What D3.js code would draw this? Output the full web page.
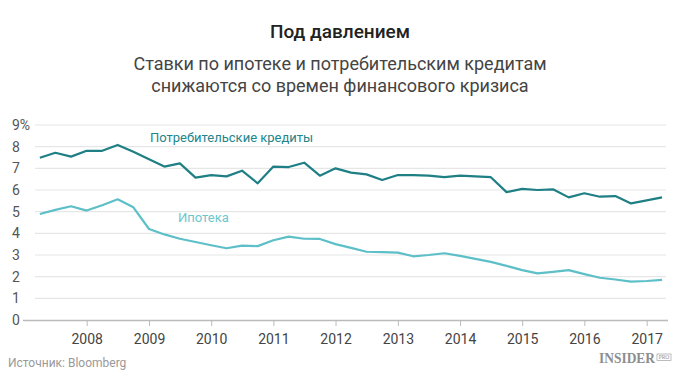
<!DOCTYPE html>
<html>
<head>
<meta charset="utf-8">
<script src="https://cdnjs.cloudflare.com/ajax/libs/d3/7.8.5/d3.min.js"></script>
<style>
  body { margin: 0; background: #fff; }
  text { font-family: Roboto, "Noto Sans", sans-serif; }
</style>
</head>
<body>
<div id="container"></div>
<script>
let w = 680;
let h = 376;

// quarterly points
let quarters = ["2007-04","2007-07","2007-10","2008-01","2008-04","2008-07","2008-10",
  "2009-01","2009-04","2009-07","2009-10","2010-01","2010-04","2010-07","2010-10",
  "2011-01","2011-04","2011-07","2011-10","2012-01","2012-04","2012-07","2012-10",
  "2013-01","2013-04","2013-07","2013-10","2014-01","2014-04","2014-07","2014-10",
  "2015-01","2015-04","2015-07","2015-10","2016-01","2016-04","2016-07","2016-10",
  "2017-01","2017-04"];

let consumer = [7.49,7.72,7.54,7.81,7.81,8.08,7.76,7.42,7.08,7.23,6.57,6.69,6.63,6.89,6.31,
  7.08,7.06,7.26,6.66,7.0,6.8,6.72,6.46,6.69,6.69,6.66,6.59,6.66,6.63,6.59,5.9,
  6.05,6.0,6.03,5.66,5.85,5.69,5.72,5.38,5.52,5.66];

let mortgage = [4.89,5.08,5.25,5.05,5.3,5.57,5.2,4.2,3.95,3.75,3.6,3.45,3.31,3.43,3.41,
  3.68,3.85,3.75,3.74,3.5,3.33,3.15,3.13,3.11,2.94,3.0,3.08,2.96,2.82,2.68,2.5,
  2.3,2.15,2.22,2.3,2.12,1.95,1.87,1.77,1.8,1.85];

let yearTicks = [2008,2009,2010,2011,2012,2013,2014,2015,2016,2017];
let yTicks = [0,1,2,3,4,5,6,7,8,9];

let title = "Под давлением";
let subtitle = ["Ставки по ипотеке и потребительским кредитам", "снижаются со времен финансового кризиса"];
let source = "Источник: Bloomberg";

let parseQ = d3.timeParse("%Y-%m");

let viz = d3.select("#container").append("svg")
    .attr("width", w)
    .attr("height", h)
    .style("background-color", "white");

let xScale = d3.scaleTime()
    .domain([new Date(2008,0,1), new Date(2017,0,1)])
    .range([86.7, 646.7]);
let yScale = d3.scaleLinear().domain([0,9]).range([320,125]);

// titles
viz.append("text").attr("x", 340).attr("y", 38).attr("text-anchor","middle")
  .attr("font-size", 19).attr("font-weight", 500).attr("fill", "#222").text(title);
viz.selectAll(".sub").data(subtitle).enter().append("text").attr("class","sub")
  .attr("x", 340).attr("y", function(d,i){ return 70 + i*22; })
  .attr("text-anchor","middle").attr("font-size", 18).attr("fill", "#444")
  .text(function(d){ return d; });

// grid
viz.selectAll(".grid").data(yTicks.filter(function(d){ return d > 0; })).enter().append("line")
  .attr("class","grid")
  .attr("x1", 35).attr("x2", 666)
  .attr("y1", function(d){ return yScale(d); })
  .attr("y2", function(d){ return yScale(d); })
  .attr("stroke", "#e6e6e6").attr("stroke-width", 1.2);

viz.selectAll(".ylab").data(yTicks).enter().append("text").attr("class","ylab")
  .attr("x", 12).attr("y", function(d){ return yScale(d) + 5; })
  .attr("font-size", 14).attr("fill", "#555")
  .text(function(d){ return d == 9 ? "9%" : d; });

// x axis
let xAxisGroup = viz.append("g").attr("transform", "translate(0,320)");
let xAxis = d3.axisBottom(xScale)
  .tickValues(yearTicks.map(function(y){ return new Date(y,0,1); }))
  .tickFormat(d3.timeFormat("%Y"))
  .tickSize(6).tickSizeOuter(0);
xAxisGroup.call(xAxis);
xAxisGroup.select(".domain").attr("d", "M23,0.5H668").attr("stroke", "#bbb").attr("stroke-width", 1.5);
xAxisGroup.selectAll(".tick line").attr("stroke", "#bbb");
xAxisGroup.selectAll(".tick text").attr("font-size", 14).attr("fill", "#444")
  .attr("dy", "1.05em");

// lines
let line = d3.line()
  .x(function(d){ return xScale(parseQ(d.q)); })
  .y(function(d){ return yScale(d.v); });

let consumerData = quarters.map(function(q,i){ return {q: q, v: consumer[i]}; });
let mortgageData = quarters.map(function(q,i){ return {q: q, v: mortgage[i]}; });

viz.append("path").datum(mortgageData).attr("d", line)
  .attr("fill","none").attr("stroke","#5dbfc7").attr("stroke-width", 2.2).attr("stroke-linejoin","round");
viz.append("path").datum(consumerData).attr("d", line)
  .attr("fill","none").attr("stroke","#1e7f85").attr("stroke-width", 2.2).attr("stroke-linejoin","round");

// series labels
viz.append("text").attr("x", 150).attr("y", 142).attr("font-size", 13)
  .attr("fill", "#23858b").text("Потребительские кредиты");
viz.append("text").attr("x", 178).attr("y", 222).attr("font-size", 13)
  .attr("fill", "#6cc6cd").text("Ипотека");

// footer
viz.append("text").attr("x", 8).attr("y", 367).attr("font-size", 12)
  .attr("fill", "#999").text(source);

// logo (css font rule wins over attributes, so use style here)
let logo = viz.append("g").attr("transform", "translate(599,363)");
logo.append("text").attr("x", 0).attr("y", 0)
  .style("font-family", "'Liberation Serif', serif").attr("font-weight", "bold")
  .attr("font-size", 14).attr("fill", "#8e8e8e")
  .attr("textLength", 56).attr("lengthAdjust", "spacingAndGlyphs").text("INSIDER");
logo.append("rect").attr("x", 58).attr("y", -9).attr("width", 14).attr("height", 6.5)
  .attr("fill", "none").attr("stroke", "#a0a0a0").attr("stroke-width", 0.7);
logo.append("text").attr("x", 65).attr("y", -4.2).attr("text-anchor","middle")
  .style("font-family", "'Liberation Serif', serif").attr("font-size", 5.5)
  .attr("fill", "#8e8e8e").text("PRO");
</script>
</body>
</html>
